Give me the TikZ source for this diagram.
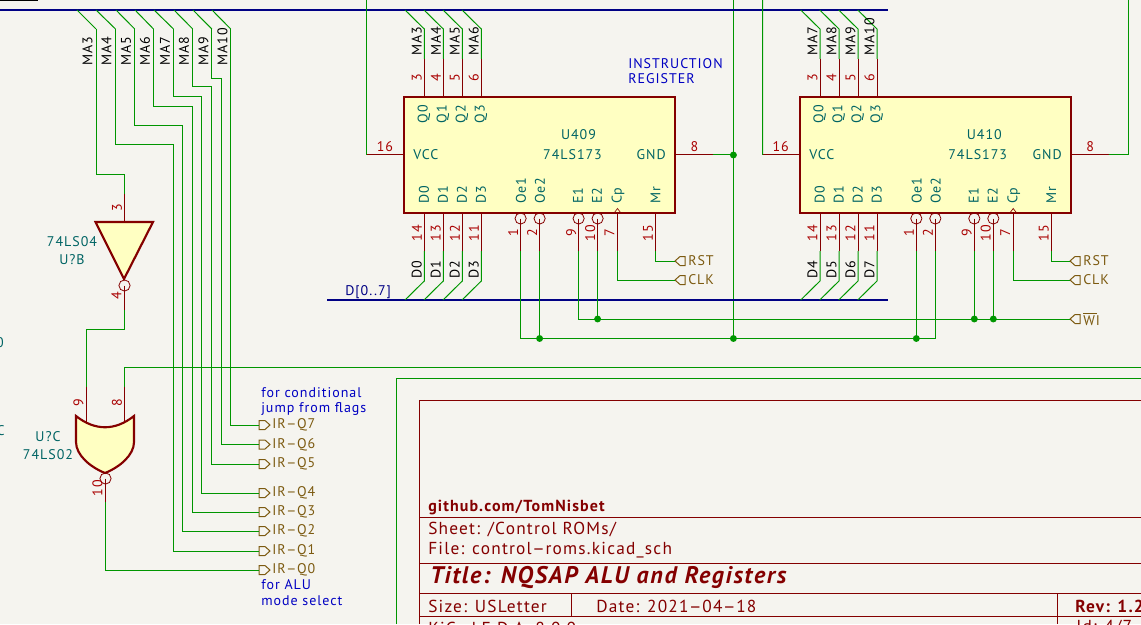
\documentclass[tikz,border=0pt]{standalone}
\usepackage{fontspec}
\setmainfont[LetterSpace=7]{PT Sans}
\definecolor{bgc}{HTML}{F5F4EF}
\definecolor{wirec}{HTML}{009600}
\definecolor{busc}{HTML}{000084}
\definecolor{pinc}{HTML}{840000}
\definecolor{numc}{HTML}{A90000}
\definecolor{symc}{HTML}{006464}
\definecolor{bodyc}{HTML}{FFFFC2}
\definecolor{lblc}{HTML}{7C5A10}
\definecolor{notec}{HTML}{0000C2}
\newcommand{\hyp}{\kern.5pt\scalebox{2}[1]{-}\kern.5pt}
\tikzset{
  x=.75pt,y=-.75pt,
  wire/.style={draw=wirec,line width=.75pt,line join=miter},
  bus/.style={draw=busc,line width=1.6pt},
  pinl/.style={draw=pinc,line width=.75pt},
  body/.style={draw=pinc,fill=bodyc,line width=1.6pt,line join=miter},
  icbody/.style={body,rectangle,inner sep=0pt,minimum width=203.25pt,minimum height=87pt},
  bub/.style={draw=pinc,line width=.6pt},
  dot/.style={fill=wirec,draw=none},
  sheet/.style={draw=pinc,line width=.75pt},
  txt/.style={inner sep=0pt,font=\fontsize{10.5pt}{11pt}\selectfont},
  net/.style={txt,text=black,rotate=90,anchor=west},
  num/.style={txt,text=numc,rotate=90},
  numh/.style={txt,text=numc},
  sym/.style={txt,text=symc},
  symv/.style={txt,text=symc,rotate=90,anchor=west},
  note/.style={txt,text=notec,anchor=west},
  hier/.style={txt,text=lblc,anchor=west},
  hshape/.style={draw=lblc,line width=.75pt,line join=miter},
  sht/.style={txt,text=pinc,anchor=west},
  shtn/.style={sht,font=\fontsize{13pt}{14pt}\selectfont},
}
\newcommand{\hlabR}[3]{% right-pointing label: name, y, text
  \coordinate (#1) at (259,#2);
  \draw[hshape] (259,#2-4.5) -- (265,#2-4.5) -- (270,#2) -- (265,#2+4.5) -- (259,#2+4.5) -- cycle;
  \node[hier] (#1t) at (272,#2) {#3};
}
\newcommand{\hlabL}[4]{% left-pointing label: name, x, y, text
  \coordinate (#1) at (#2,#3);
  \draw[hshape] (#2,#3) -- (#2+5,#3-4.5) -- (#2+10,#3-4.5) -- (#2+10,#3+4.5) -- (#2+5,#3+4.5) -- cycle;
  \node[hier] (#1t) at (#2+13,#3) {#4};
}
\newcommand{\junction}[1]{\fill[dot] (#1) circle[radius=2.6pt];}
% chip: prefix, dx, ref, top nets, bottom nets
\newcommand{\chipdraw}[5]{
  \begin{scope}[xshift=#2*.75pt]
  % top pins
  \foreach \i/\nn/\pp in {#4}{
    \pgfmathsetmacro{\px}{424.3+19*\i}
    \pgfmathsetmacro{\qx}{\px-19.3}
    \coordinate (#1te\i) at (\qx,10);
    \coordinate (#1tb\i) at (\px,29);
    \coordinate (#1tw\i) at (\px,59);
    \coordinate (#1tp\i) at (\px,97);
    \draw[wire] (#1te\i) -- (#1tb\i) -- (#1tw\i);
    \draw[pinl] (#1tw\i) -- (#1tp\i);
    \pgfmathsetmacro{\lx}{\px-7.5}
    \node[net] (#1tn\i) at (\lx,56) {\nn};
    \node[num] (#1tx\i) at (\lx,78) {\pp};
  }
  % bottom data pins
  \foreach \i/\nn/\pp in {#5}{
    \pgfmathsetmacro{\px}{424.3+19*\i}
    \pgfmathsetmacro{\qx}{\px-19.3}
    \coordinate (#1be\i) at (\qx,300);
    \coordinate (#1bb\i) at (\px,281);
    \coordinate (#1bw\i) at (\px,251);
    \coordinate (#1bp\i) at (\px,213);
    \draw[wire] (#1be\i) -- (#1bb\i) -- (#1bw\i);
    \draw[pinl] (#1bw\i) -- (#1bp\i);
    \pgfmathsetmacro{\lx}{\px-7.5}
    \node[net] (#1bn\i) at (\lx,279) {\nn};
    \node[num] (#1bx\i) at (\lx,233) {\pp};
  }
  % active low and other pins
  \foreach \nm/\px/\pp in {oa/520.6/1,ob/539.6/2,ea/578.6/9,eb/597.6/10}{
    \coordinate (#1\nm c) at (\px,218.5);
    \coordinate (#1\nm w) at (\px,251);
    \draw[bub] (#1\nm c) circle[radius=4.2pt];
    \draw[pinl] (#1\nm c) -- (#1\nm w);
    \pgfmathsetmacro{\lx}{\px-7.5}
    \node[num] (#1\nm x) at (\lx,233) {\pp};
  }
  \coordinate (#1cp) at (617.5,213); \coordinate (#1cw) at (617.5,251);
  \coordinate (#1mr) at (655.4,213); \coordinate (#1mw) at (655.4,251);
  \draw[pinl] (#1cp) -- (#1cw);
  \draw[pinl] (#1mr) -- (#1mw);
  \node[num] (#1cx) at (609.5,233) {7};
  \node[num] (#1mx) at (648,233) {15};
  % power pins
  \coordinate (#1vw) at (366.8,155); \coordinate (#1vp) at (404,155);
  \coordinate (#1gp) at (675,155); \coordinate (#1gw) at (713,155);
  \draw[pinl] (#1vw) -- (#1vp);
  \draw[pinl] (#1gp) -- (#1gw);
  \node[numh] (#1vx) at (385,147) {16};
  \node[numh] (#1gx) at (694.5,147) {8};
  % body
  \node[icbody] (#1body) at (539.5,155) {};
  \foreach \i/\nn in {0/Q0,1/Q1,2/Q2,3/Q3}{
    \pgfmathsetmacro{\px}{424+19*\i}
    \node[symv] (#1q\i) at (\px,123.5) {\nn};
  }
  \foreach \i/\nn in {0/D0,1/D1,2/D2,3/D3}{
    \pgfmathsetmacro{\px}{424+19*\i}
    \node[symv] (#1d\i) at (\px,204) {\nn};
  }
  \foreach \nm/\px/\nn in {oe/521/Oe1,of/540/Oe2,e1/578/E1,e2/597/E2,ck/618/Cp,mm/655.5/Mr}{
    \node[symv] (#1\nm) at (\px,204) {\nn};
  }
  \draw[pinc,line width=.5pt] (614.5,212.5) -- (617.5,208.5) -- (620.5,212.5);
  \end{scope}
}
\begin{document}
\begin{tikzpicture}
\useasboundingbox (0,0) rectangle (1141,624);
\fill[bgc] (0,0) rectangle (1141,624);
% cropped fragments at the left edge
\node[sym,anchor=east] (fa) at (4,343) {0};
\node[sym,anchor=east] (fb) at (5,431) {C};
\coordinate (tla) at (0,.5); \coordinate (tlb) at (38,.5);
\draw[black,line width=.75pt] (tla) -- (tlb);
% long green wires (under the chips)
\coordinate (frame) at (396,378); \coordinate (frameR) at (1141,378); \coordinate (frameB) at (396,624);
\draw[wire] (frameB) -- (frame) -- (frameR);
\coordinate (gndtop) at (733.4,0); \coordinate (gndbot) at (733.4,338.5);
\draw[wire] (gndtop) -- (gndbot);
% buses
\coordinate (busAa) at (0,10); \coordinate (busAb) at (888,10);
\coordinate (busBa) at (327,300); \coordinate (busBb) at (888,300);
\draw[bus] (busAa) -- (busAb);
\draw[bus] (busBa) -- (busBb);
\node[txt,text=busc,anchor=west] (busBn) at (345,292) {D[0..7]};
% chips
\chipdraw{a}{0}{579,135}{0/MA3/3,1/MA4/4,2/MA5/5,3/MA6/6}{0/D0/14,1/D1/13,2/D2/12,3/D3/11}
\chipdraw{b}{395.7}{975,135}{0/MA7/3,1/MA8/4,2/MA9/5,3/MA10/6}{0/D4/14,1/D5/13,2/D6/12,3/D7/11}
\node[sym] (u409) at (578.5,135) {U409};
\node[sym] (v409) at (572.5,155) {74LS173};
\node[sym,anchor=west] (vcca) at (413,155) {VCC};
\node[sym,anchor=east] (gnda) at (666,155) {GND};
\node[sym] (u410) at (984.3,135) {U410};
\node[sym] (v410) at (977.7,155) {74LS173};
\node[sym,anchor=west] (vccb) at (809,155) {VCC};
\node[sym,anchor=east] (gndb) at (1062,155) {GND};
\node[note] (ir1) at (628,64) {INSTRUCTION};
\node[note] (ir2) at (628,79) {REGISTER};
% power wiring
\coordinate (vaT) at (366.8,0); \coordinate (vbT) at (762.5,0);
\coordinate (gbT) at (1128.7,0); \coordinate (gbC) at (1128.7,155);
\draw[wire] (vaT) -- (avw);
\draw[wire] (vbT) -- (bvw);
\draw[wire] (agw) -- (733.4,155);
\draw[wire] (bgw) -- (gbC) -- (gbT);
% enable wiring
\coordinate (oeL) at (520.6,338.5); \coordinate (oeR) at (935.3,338.5);
\coordinate (weL) at (578.6,319); 
\draw[wire] (aoaw) -- (oeL) -- (oeR) -- (bobw);
\draw[wire] (aobw) -- (539.6,338.5);
\draw[wire] (boaw) -- (916.3,338.5);
\hlabL{wi}{1070}{319}{\rlap{\raisebox{9pt}{\rule{10.5pt}{.6pt}}}WI}
\draw[wire] (aeaw) -- (weL) -- (wi);
\draw[wire] (aebw) -- (597.6,319);
\draw[wire] (beaw) -- (974.3,319);
\draw[wire] (bebw) -- (993.3,319);
% control labels
\hlabL{arst}{675}{261}{RST}
\hlabL{aclk}{675}{280}{CLK}
\hlabL{brst}{1070}{261}{RST}
\hlabL{bclk}{1070}{280}{CLK}
\draw[wire] (amw) |- (arst);
\draw[wire] (acw) |- (aclk);
\draw[wire] (bmw) |- (brst);
\draw[wire] (bcw) |- (bclk);
% junctions
\coordinate (j1) at (733.4,155); \coordinate (j2) at (733.4,338.5);
\coordinate (j3) at (539.6,338.5); \coordinate (j4) at (916.3,338.5);
\coordinate (j5) at (597.6,319); \coordinate (j6) at (974.3,319); \coordinate (j7) at (993.3,319);
\foreach \j in {j1,j2,j3,j4,j5,j6,j7}{\junction{\j}}
% left bus tap wires
\hlabR{q7}{425}{IR\hyp Q7}
\hlabR{q6}{444.5}{IR\hyp Q6}
\hlabR{q5}{464}{IR\hyp Q5}
\hlabR{q4}{493}{IR\hyp Q4}
\hlabR{q3}{512}{IR\hyp Q3}
\hlabR{q2}{531}{IR\hyp Q2}
\hlabR{q1}{551}{IR\hyp Q1}
\hlabR{q0}{570}{IR\hyp Q0}
\foreach \nm/\ex/\tx/\ly/\lab in {
  a/77/96/87.5/MA3,
  b/96/115.5/106.5/MA4,
  c/116/134.7/126/MA5,
  d/135/153.5/145/MA6,
  e/154/173.5/165/MA7,
  f/174/192.7/184/MA8,
  g/193/211.8/203.5/MA9,
  h/212/230.7/222.5/MA10}{
  \coordinate (l\nm e) at (\ex,10);
  \coordinate (l\nm b) at (\tx,29);
  \draw[wire] (l\nm e) -- (l\nm b);
  \node[net] (l\nm t) at (\ly,66) {\lab};
}
\draw[wire] (lab) -- (96,174) -- (124.5,174) -- (124.5,194);
\draw[wire] (lbb) |- (173.5,145) -- (173.5,551) -- (q1);
\draw[wire] (lcb) |- (182.7,126) -- (182.7,531) -- (q2);
\draw[wire] (ldb) |- (192.7,107) -- (192.7,512) -- (q3);
\draw[wire] (leb) |- (201.8,97) -- (201.8,493) -- (q4);
\draw[wire] (lfb) |- (211.8,87) -- (211.8,464) -- (q5);
\draw[wire] (lgb) |- (221.8,78.5) -- (221.8,444.5) -- (q6);
\draw[wire] (lhb) |- (q7);
% inverter
\coordinate (inA) at (124.5,194); \coordinate (inB) at (124.5,222);
\coordinate (inC) at (124.5,285.5); \coordinate (inD) at (124.5,310);
\draw[pinl] (inA) -- (inB);
\draw[pinl] (inC) -- (inD);
\draw[body] (95.5,222) -- (153,222) -- (124,279) -- cycle;
\draw[bub] (inC) circle[radius=4.2pt];
\node[num] (in3) at (117,208) {3};
\node[num] (in4) at (116.5,296) {4};
\node[sym] (inv1) at (72,242) {74LS04};
\node[sym] (inv2) at (72,260) {U?B};
% NOR gate
\coordinate (gaW) at (86.5,387); \coordinate (gaP) at (86.5,424);
\coordinate (gbW) at (124.5,387); \coordinate (gbP) at (124.5,424);
\coordinate (gcC) at (105.5,478.5); \coordinate (gcW) at (105.5,502);
\draw[pinl] (gaW) -- (gaP);
\draw[pinl] (gbW) -- (gbP);
\draw[pinl] (gcC) -- (gcW);
\draw[body] (76,416) .. controls (95,431) and (115,431) .. (134,416) -- (134,442) .. controls (134,455) and (120,467) .. (105,473) .. controls (90,467) and (76,455) .. (76,442) -- cycle;
\draw[bub] (gcC) circle[radius=4.2pt];
\node[num] (gn9) at (78.5,403) {9};
\node[num] (gn8) at (117,403) {8};
\node[num] (gn10) at (97.5,488) {10};
\node[sym] (gt1) at (48,437) {U?C};
\node[sym] (gt2) at (48,455) {74LS02};
\coordinate (fbR) at (1141,367.5);
\draw[wire] (inD) -- (124.5,329) -- (86.5,329) -- (gaW);
\draw[wire] (gbW) |- (fbR);
\draw[wire] (gcW) |- (q0);
\node[note] (n1) at (261,393) {for conditional};
\node[note] (n2) at (261,409) {jump from flags};
\node[note] (n3) at (261,585) {for ALU};
\node[note] (n4) at (261,601) {mode select};
% title block
\coordinate (tbL) at (419.7,400);
\draw[sheet] (419.7,624) -- (tbL) -- (1141,400);
\foreach \yy in {517,563,593,616}{\draw[sheet] (419.7,\yy) -- (1141,\yy);}
\draw[sheet] (571.5,593) -- (571.5,616);
\draw[sheet] (1057.6,593) -- (1057.6,624);
\node[sht,font=\fontsize{12pt}{13pt}\bfseries\selectfont] (tb1) at (428,507) {github.com/TomNisbet};
\node[shtn] (tb2) at (428,530) {Sheet: /Control ROMs/};
\node[shtn] (tb3) at (428,550) {File: control\hyp roms.kicad\_sch};
\node[sht,font=\fontsize{18pt}{19pt}\bfseries\itshape\selectfont] (tb4) at (430,578) {Title: NQSAP ALU and Registers};
\node[shtn] (tb5) at (428,606) {Size: USLetter};
\node[shtn] (tb6) at (596,606) {Date: 2021\hyp 04\hyp 18};
\node[sht,font=\fontsize{13pt}{14pt}\bfseries\selectfont] (tb7) at (1075,606) {Rev: 1.2};
\node[shtn] (tb8) at (428,628) {KiCad E.D.A. 8.0.0};
\node[shtn] (tb9) at (1076,628) {Id: 4/7};
\end{tikzpicture}
\end{document}
